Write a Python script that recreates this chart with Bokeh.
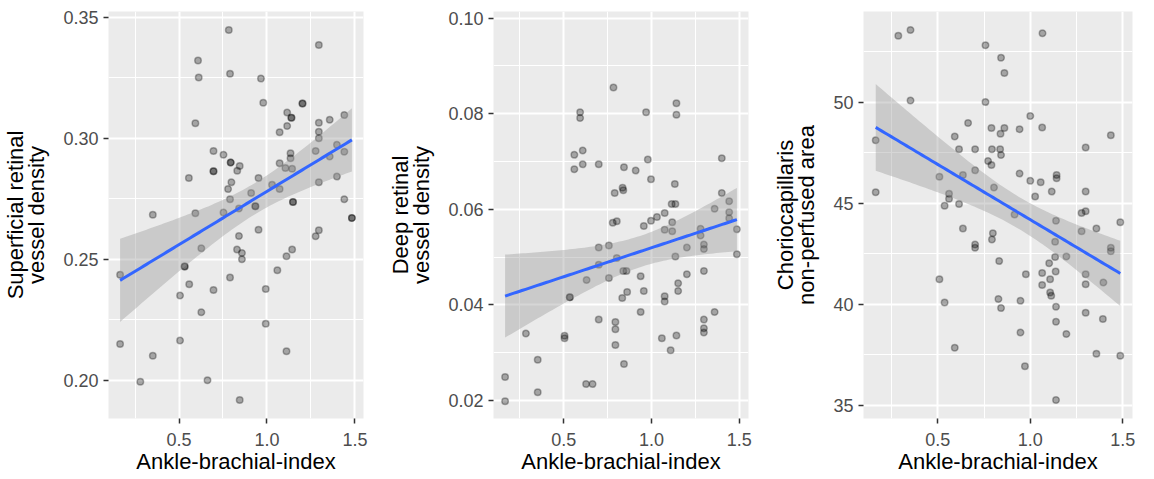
import numpy as np
from bokeh.plotting import figure
from bokeh.layouts import row
from bokeh.models import Range1d, FixedTicker, PrintfTickFormatter
from bokeh.embed import file_html
from bokeh.resources import INLINE

# ---------------- data ----------------
sup_abi = [0.165, 0.165, 0.280, 0.351, 0.351, 0.506, 0.506, 0.532, 0.532, 0.556, 0.558, 0.593, 0.593,
           0.608, 0.612, 0.627, 0.627, 0.662, 0.696, 0.696, 0.696, 0.696, 0.753, 0.753, 0.779, 0.783,
           0.790, 0.790, 0.794, 0.794, 0.798, 0.790, 0.831, 0.845, 0.841, 0.841, 0.830, 0.858, 0.858,
           0.845, 0.910, 0.934, 0.934, 0.952, 0.952, 0.966, 0.979, 0.993, 0.993, 1.029, 1.059, 1.072,
           1.072, 1.072, 1.115, 1.115, 1.111, 1.111, 1.105, 1.139, 1.139, 1.134, 1.134, 1.143, 1.148,
           1.148, 1.143, 1.202, 1.202, 1.277, 1.277, 1.295, 1.295, 1.295, 1.295, 1.295, 1.295, 1.357,
           1.357, 1.398, 1.398, 1.440, 1.440, 1.440, 1.483, 1.483]
sup_density = [0.2150, 0.2436, 0.1993, 0.2101, 0.2684, 0.2164, 0.2350, 0.2470, 0.2470, 0.2836, 0.2397,
               0.2690, 0.3062, 0.3322, 0.3252, 0.2545, 0.2281, 0.2000, 0.2948, 0.2864, 0.2864, 0.2373,
               0.2932, 0.2693, 0.2790, 0.3448, 0.3267, 0.2748, 0.2900, 0.2900, 0.2818, 0.2425, 0.2866,
               0.2886, 0.2596, 0.2710, 0.2540, 0.2526, 0.2500, 0.1918, 0.2774, 0.2719, 0.2719, 0.2836,
               0.2622, 0.3247, 0.3147, 0.2377, 0.2233, 0.2808, 0.2455, 0.3025, 0.2897, 0.2790, 0.3107,
               0.3051, 0.2512, 0.2120, 0.2877, 0.3085, 0.3085, 0.2938, 0.2918, 0.2874, 0.2737, 0.2737,
               0.2540, 0.3144, 0.3144, 0.2948, 0.2595, 0.3386, 0.3064, 0.3027, 0.3000, 0.2818, 0.2620,
               0.3077, 0.2925, 0.2973, 0.2842, 0.3096, 0.2945, 0.2748, 0.2671, 0.2671]

deep_abi = [0.165, 0.165, 0.284, 0.351, 0.351, 0.504, 0.504, 0.534, 0.534, 0.560, 0.560, 0.593, 0.593,
            0.608, 0.608, 0.627, 0.664, 0.630, 0.699, 0.699, 0.699, 0.699, 0.757, 0.757, 0.783, 0.779,
            0.802, 0.790, 0.794, 0.794, 0.794, 0.802, 0.835, 0.839, 0.843, 0.839, 0.857, 0.833, 0.861,
            0.843, 0.910, 0.938, 0.938, 0.956, 0.956, 0.969, 0.979, 0.997, 0.997, 1.031, 1.059, 1.075,
            1.075, 1.075, 1.075, 1.109, 1.115, 1.136, 1.118, 1.118, 1.133, 1.142, 1.142, 1.136, 1.142,
            1.152, 1.152, 1.202, 1.202, 1.280, 1.280, 1.299, 1.299, 1.299, 1.299, 1.299, 1.299, 1.360,
            1.360, 1.401, 1.401, 1.443, 1.443, 1.443, 1.487, 1.487]
deep_density = [0.0249, 0.0198, 0.0340, 0.0285, 0.0217, 0.0335, 0.0330, 0.0416, 0.0416, 0.0714, 0.0684,
                0.0803, 0.0791, 0.0723, 0.0694, 0.0234, 0.0234, 0.0452, 0.0694, 0.0520, 0.0484, 0.0369,
                0.0524, 0.0456, 0.0855, 0.0572, 0.0575, 0.0634, 0.0364, 0.0349, 0.0316, 0.0498, 0.0645,
                0.0640, 0.0688, 0.0471, 0.0471, 0.0414, 0.0427, 0.0276, 0.0681, 0.0460, 0.0385, 0.0565,
                0.0429, 0.0803, 0.0704, 0.0663, 0.0576, 0.0584, 0.0330, 0.0592, 0.0557, 0.0418, 0.0407,
                0.0305, 0.0611, 0.0611, 0.0573, 0.0554, 0.0653, 0.0822, 0.0798, 0.0501, 0.0336, 0.0445,
                0.0429, 0.0520, 0.0464, 0.0559, 0.0545, 0.0526, 0.0517, 0.0471, 0.0369, 0.0351, 0.0342,
                0.0601, 0.0385, 0.0707, 0.0634, 0.0617, 0.0594, 0.0581, 0.0558, 0.0506]

cc_abi = [0.165, 0.165, 0.287, 0.353, 0.353, 0.509, 0.509, 0.537, 0.537, 0.561, 0.561, 0.592, 0.592,
          0.615, 0.615, 0.636, 0.636, 0.664, 0.702, 0.702, 0.702, 0.702, 0.758, 0.758, 0.772, 0.790,
          0.790, 0.793, 0.804, 0.798, 0.793, 0.832, 0.828, 0.842, 0.839, 0.842, 0.837, 0.842, 0.860,
          0.860, 0.915, 0.942, 0.942, 0.947, 0.947, 0.976, 0.971, 1.000, 1.000, 1.026, 1.056, 1.064,
          1.066, 1.064, 1.064, 1.102, 1.107, 1.107, 1.113, 1.116, 1.134, 1.137, 1.134, 1.142, 1.142,
          1.139, 1.139, 1.139, 1.139, 1.195, 1.195, 1.277, 1.277, 1.299, 1.299, 1.299, 1.299, 1.299,
          1.299, 1.357, 1.357, 1.392, 1.395, 1.435, 1.435, 1.435, 1.486, 1.486]
cc_area = [48.11, 45.54, 53.28, 53.57, 50.08, 46.31, 41.23, 44.87, 40.08, 45.46, 45.21, 48.30, 37.84,
           47.67, 44.95, 46.39, 43.74, 48.97, 47.67, 46.62, 42.95, 42.79, 52.82, 50.00, 47.08, 46.89,
           48.72, 47.67, 45.77, 43.51, 43.20, 42.13, 40.25, 52.20, 48.43, 39.80, 47.67, 47.38, 51.44,
           48.72, 44.43, 48.66, 46.46, 40.16, 38.59, 41.48, 36.92, 49.31, 46.10, 45.33, 46.03, 48.74,
           53.41, 41.54, 40.95, 42.02, 41.23, 40.57, 40.41, 45.57, 43.08, 41.61, 42.33, 46.39, 46.23,
           44.13, 39.87, 39.13, 35.25, 42.36, 38.52, 44.51, 43.61, 47.75, 45.57, 44.59, 41.48, 40.98,
           39.57, 43.74, 37.54, 39.26, 41.07, 48.36, 42.79, 42.62, 44.05, 37.44]

x_ticks = [0.5, 1.0, 1.5]
x_minor = [0.25, 0.75, 1.25]
sup_ticks = [0.20, 0.25, 0.30, 0.35]
sup_minor = [0.225, 0.275, 0.325]
deep_ticks = [0.02, 0.04, 0.06, 0.08, 0.10]
deep_minor = [0.03, 0.05, 0.07, 0.09]
deep_ylim = [0.0162, 0.1014]
cc_ticks = [35, 40, 45, 50]
cc_minor = [37.5, 42.5, 47.5, 52.5]

x_title = "Ankle-brachial-index"
y_titles = ["Superficial retinal\nvessel density", "Deep retinal\nvessel density",
            "Choriocapillaris\nnon-perfused area"]

FONT = "Liberation Sans"
T_QUANT = 1.99


def fit_band(x, y, n=80):
    x = np.asarray(x, float)
    y = np.asarray(y, float)
    b1, b0 = np.polyfit(x, y, 1)
    xs = np.linspace(x.min(), x.max(), n)
    yhat = b0 + b1 * xs
    resid = y - (b0 + b1 * x)
    s = np.sqrt(np.sum(resid ** 2) / (len(x) - 2))
    se = s * np.sqrt(1 / len(x) + (xs - x.mean()) ** 2 / np.sum((x - x.mean()) ** 2))
    return xs, yhat, yhat - T_QUANT * se, yhat + T_QUANT * se


def expand(v):
    lo, hi = min(v), max(v)
    d = (hi - lo) * 0.05
    return lo - d, hi + d


def panel(x, y, yt, ym, fmt, ytitle, width, left, right, ylim=None):
    xr = expand(x)
    yr = ylim if ylim is not None else expand(y)
    p = figure(width=width, height=476, output_backend="svg", toolbar_location=None,
               x_range=Range1d(*xr), y_range=Range1d(*yr),
               min_border_left=left, min_border_right=right, min_border_top=11, min_border_bottom=58)
    p.background_fill_color = "#EBEBEB"
    p.border_fill_color = "white"
    p.outline_line_color = None

    p.xaxis.ticker = FixedTicker(ticks=x_ticks, minor_ticks=x_minor)
    p.yaxis.ticker = FixedTicker(ticks=yt, minor_ticks=ym)
    p.xaxis.formatter = PrintfTickFormatter(format="%.1f")
    p.yaxis.formatter = PrintfTickFormatter(format=fmt)

    for g in (p.xgrid, p.ygrid):
        g.grid_line_color = "white"
        g.grid_line_width = 2
        g.minor_grid_line_color = "white"
        g.minor_grid_line_width = 1

    for ax in (p.xaxis, p.yaxis):
        ax.axis_line_color = None
        ax.major_tick_line_color = "#333333"
        ax.major_tick_line_width = 1.5
        ax.major_tick_out = 5
        ax.major_tick_in = 0
        ax.minor_tick_line_color = None
        ax.major_label_text_font = FONT
        ax.major_label_text_font_size = "18px"
        ax.major_label_text_color = "#4D4D4D"
        ax.axis_label_text_font = FONT
        ax.axis_label_text_font_size = "22px"
        ax.axis_label_text_font_style = "normal"
        ax.axis_label_text_color = "black"

    p.xaxis.axis_label = x_title
    p.xaxis.major_label_standoff = 9
    p.xaxis.axis_label_standoff = 0
    p.yaxis.axis_label = ytitle
    p.yaxis.axis_label_text_line_height = 0.85
    p.yaxis.major_label_standoff = 5
    p.yaxis.axis_label_standoff = 11

    p.scatter(x, y, size=6.5, fill_color="black", fill_alpha=0.3,
              line_color="black", line_alpha=0.3, line_width=1.5)
    xs, yhat, lo, hi = fit_band(x, y)
    p.varea(x=xs, y1=lo, y2=hi, fill_color="#999999", fill_alpha=0.4)
    p.line(xs, yhat, line_color="#3366FF", line_width=3)
    return p


p1 = panel(sup_abi, sup_density, sup_ticks, sup_minor, "%.2f", y_titles[0], 385, 102, 22)
p2 = panel(deep_abi, deep_density, deep_ticks, deep_minor, "%.2f", y_titles[1], 385, 102, 22,
           ylim=deep_ylim)
p3 = panel(cc_abi, cc_area, cc_ticks, cc_minor, "%d", y_titles[2], 368, 86, 6)

layout = row(p1, p2, p3)
open("out.html", "w").write(file_html(layout, INLINE))
